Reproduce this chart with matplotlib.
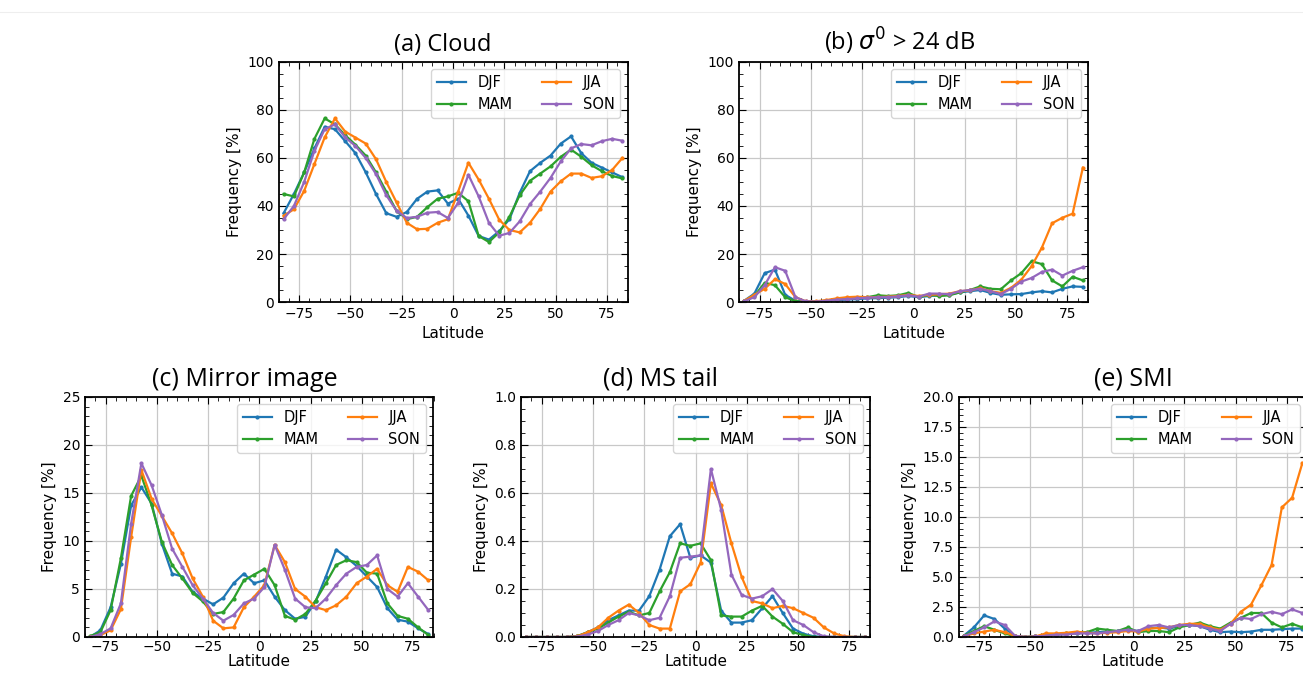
import matplotlib.pyplot as plt
from matplotlib.ticker import MultipleLocator, AutoMinorLocator
from matplotlib.lines import Line2D

# latitude bin centres
lat = [-82.5, -77.5, -72.5, -67.5, -62.5, -57.5, -52.5, -47.5, -42.5, -37.5,
       -32.5, -27.5, -22.5, -17.5, -12.5, -7.5, -2.5, 2.5, 7.5, 12.5,
       17.5, 22.5, 27.5, 32.5, 37.5, 42.5, 47.5, 52.5, 57.5, 62.5,
       67.5, 72.5, 77.5, 82.5]

# (a) Cloud
cloud_djf = [37, 45, 54, 64, 73, 72, 67, 62, 54, 45, 37, 35.5, 37.5, 43, 46, 46.5, 41,
             43, 36, 27.5, 26, 29.5, 34.5, 45.5, 54.5, 58, 61, 66, 69, 62, 58, 56, 54, 52]
cloud_mam = [45, 44, 54, 68, 76.5, 74, 69.5, 65.5, 61, 54, 46, 38, 34.5, 35.5, 39.5, 43, 44,
             45.5, 42, 27.5, 25, 29, 35.5, 44.5, 50.5, 53.5, 56.5, 60.5, 63.5, 60.5, 57, 54.5, 52.5, 51.5]
cloud_jja = [36, 38.6, 46.3, 57.5, 68.6, 76.5, 71, 68.5, 66, 59.5, 50, 41.5, 33, 30.3, 30.5, 33, 34.5,
             46, 58, 51, 43, 34.3, 30, 29, 33, 38.8, 46, 50.3, 53.5, 53.5, 51.7, 52.4, 55, 60]
cloud_son = [34.5, 40, 50, 63, 72, 74, 68.6, 65, 60, 53.3, 44.5, 38, 35, 35.5, 37.2, 37.5, 35,
             41.3, 53, 44, 33, 27.6, 28.8, 33.6, 40.8, 46, 51.7, 58.6, 64, 65.8, 65.3, 67, 68, 67.2]

# (b) sigma0 > 24 dB
sig_djf = [0.5, 3.5, 12, 13.5, 3, 0.5, 0.1, 0.2, 0.4, 0.8, 1.0, 1.2, 1.5, 1.6, 1.8, 2.0, 2.5,
           2.0, 2.5, 2.8, 3.0, 4.0, 4.5, 5.0, 3.8, 3.0, 3.2, 3.3, 4.0, 4.5, 4.0, 5.5, 6.5, 6.3]
sig_mam = [0.3, 2.5, 8, 7, 2, 0.3, 0.1, 0.2, 0.5, 1.0, 1.5, 1.8, 2.0, 2.8, 2.5, 2.8, 3.8,
           2.0, 3.0, 2.5, 2.8, 4.0, 5.0, 6.5, 5.5, 5.3, 9, 12, 17, 15.8, 9, 6.5, 10.5, 9]
sig_jja = [0.5, 3, 5.5, 9.5, 7.5, 2, 0.3, 0.3, 0.8, 1.5, 2.0, 2.2, 2.0, 2.0, 2.2, 2.5, 3.0,
           2.5, 3.0, 3.2, 3.5, 4.5, 4.8, 5.8, 4.5, 3.8, 5.9, 9.3, 14.9, 22.6, 32.8, 35.1, 36.8, 56]
sig_son = [0.3, 2, 7, 14.5, 13, 2, 0.3, 0.2, 0.5, 1.0, 1.2, 1.5, 1.8, 2.0, 2.0, 2.3, 2.8,
           2.2, 3.5, 3.5, 3.2, 4.5, 5.0, 5.5, 4.5, 3.3, 5.5, 8.5, 10, 12.5, 13.5, 11, 13, 14.5]

# (c) Mirror image
mir_djf = [0, 0.7, 3.1, 7.6, 13.7, 15.6, 13.9, 9.7, 6.6, 6.3, 4.7, 4.0, 3.4, 4.1, 5.6, 6.6, 5.6,
           5.9, 4.2, 2.8, 1.9, 2.1, 3.7, 6.3, 9.1, 8.3, 7.4, 6.3, 5.2, 3.0, 1.8, 1.6, 0.9, 0.3]
mir_mam = [0.1, 0.5, 2.8, 8.2, 14.7, 16.8, 13.7, 9.9, 7.5, 6.1, 4.6, 3.7, 2.4, 2.6, 4.0, 5.9, 6.5,
           7.1, 5.4, 2.2, 1.8, 2.4, 3.8, 5.6, 7.5, 8.0, 7.8, 6.7, 6.6, 3.5, 2.2, 1.9, 1.0, 0.2]
mir_jja = [0, 0.2, 0.7, 2.9, 10.4, 17.4, 14.4, 12.6, 10.8, 8.7, 6.1, 4.2, 1.7, 0.9, 1.0, 3.1, 4.2,
           5.4, 9.6, 7.8, 5.0, 4.2, 3.1, 2.8, 3.3, 4.2, 5.6, 6.3, 7.1, 5.4, 4.7, 7.3, 6.8, 5.9]
mir_son = [0, 0.3, 0.9, 3.5, 11.8, 18.1, 15.8, 12.7, 9.2, 7.3, 5.4, 4.0, 2.5, 1.7, 2.3, 3.5, 4.0,
           5.2, 9.6, 7.0, 4.0, 3.1, 3.0, 4.0, 5.4, 6.6, 7.3, 7.5, 8.5, 5.0, 4.2, 5.6, 4.2, 2.8]

# (d) MS tail
ms_djf = [0, 0, 0, 0, 0, 0.004, 0.02, 0.04, 0.07, 0.09, 0.11, 0.11, 0.17, 0.28, 0.42, 0.47, 0.33,
          0.34, 0.31, 0.11, 0.06, 0.06, 0.07, 0.12, 0.17, 0.10, 0.035, 0.014, 0.003, 0, 0, 0, 0, 0]
ms_mam = [0, 0, 0, 0, 0, 0.003, 0.02, 0.035, 0.06, 0.085, 0.105, 0.09, 0.10, 0.19, 0.27, 0.39, 0.38,
          0.39, 0.32, 0.09, 0.085, 0.085, 0.11, 0.13, 0.085, 0.055, 0.02, 0.008, 0, 0, 0, 0, 0, 0]
ms_jja = [0, 0, 0, 0, 0, 0.003, 0.02, 0.04, 0.08, 0.11, 0.135, 0.10, 0.05, 0.035, 0.035, 0.19, 0.22,
          0.31, 0.64, 0.55, 0.39, 0.25, 0.15, 0.14, 0.12, 0.13, 0.12, 0.10, 0.08, 0.04, 0.015, 0.003, 0, 0]
ms_son = [0, 0, 0, 0, 0, 0.002, 0.01, 0.025, 0.05, 0.07, 0.10, 0.09, 0.07, 0.08, 0.17, 0.33, 0.335,
          0.34, 0.70, 0.53, 0.26, 0.175, 0.16, 0.17, 0.20, 0.15, 0.07, 0.05, 0.02, 0.003, 0, 0, 0, 0]

# (e) SMI
smi_djf = [0.1, 0.8, 1.8, 1.5, 0.7, 0.1, 0.0, 0.05, 0.1, 0.2, 0.25, 0.3, 0.35, 0.4, 0.45, 0.5, 0.6,
           0.5, 0.7, 0.8, 0.7, 0.9, 1.0, 0.9, 0.6, 0.4, 0.45, 0.4, 0.45, 0.6, 0.6, 0.65, 0.7, 0.7]
smi_mam = [0.1, 0.5, 0.9, 0.6, 0.3, 0.05, 0, 0.05, 0.1, 0.2, 0.3, 0.35, 0.4, 0.7, 0.6, 0.5, 0.8,
           0.4, 0.5, 0.5, 0.4, 0.8, 1.0, 1.2, 0.9, 0.7, 1.2, 1.6, 2.0, 2.0, 1.2, 0.8, 1.1, 0.8]
smi_jja = [0.05, 0.3, 0.45, 0.6, 0.4, 0.1, 0, 0.05, 0.3, 0.3, 0.35, 0.45, 0.35, 0.3, 0.35, 0.4, 0.5,
           0.45, 0.7, 0.75, 0.8, 1.0, 1.1, 1.1, 0.8, 0.6, 1.1, 2.1, 2.7, 4.3, 6.0, 10.8, 11.6, 14.5]
smi_son = [0.05, 0.4, 0.8, 1.3, 1.0, 0.1, 0, 0.05, 0.1, 0.2, 0.2, 0.3, 0.3, 0.3, 0.4, 0.5, 0.6,
           0.5, 0.9, 1.0, 0.8, 1.0, 1.0, 0.9, 0.7, 0.5, 1.1, 1.6, 1.5, 1.9, 2.1, 1.9, 2.3, 2.0]

seasons = ['DJF', 'MAM', 'JJA', 'SON']
colors = {'DJF': '#1f77b4', 'MAM': '#2ca02c', 'JJA': '#ff7f0e', 'SON': '#9467bd'}

W, H = 1303, 673
fig = plt.figure(figsize=(W / 100, H / 100), dpi=100)

# faint screenshot seam at the top
fig.add_artist(Line2D([0, 1], [1 - 12 / H, 1 - 12 / H], color='#eeeeee', lw=0.8))


def box(x0, x1, y0, y1):
    return [x0 / W, 1 - y1 / H, (x1 - x0) / W, (y1 - y0) / H]


# rect, title, series, ymax, ystep, title size, title x, y format, bottom row?
panels = [
    (box(278.5, 627.5, 62, 302), '(a) Cloud', [cloud_djf, cloud_mam, cloud_jja, cloud_son],
     100, 20, 17, 0.47, None, False),
    (box(739, 1088, 62, 302), r'(b) $\sigma^0$ > 24 dB', [sig_djf, sig_mam, sig_jja, sig_son],
     100, 20, 17, 0.46, None, False),
    (box(85, 433.5, 397, 637), '(c) Mirror image', [mir_djf, mir_mam, mir_jja, mir_son],
     25, 5, 18, 0.46, None, True),
    (box(521, 870, 397, 637), '(d) MS tail', [ms_djf, ms_mam, ms_jja, ms_son],
     1.0, 0.2, 18, 0.40, '{x:.1f}', True),
    (box(958.5, 1307.5, 397, 637), '(e) SMI', [smi_djf, smi_mam, smi_jja, smi_son],
     20, 2.5, 18, 0.50, '{x:.1f}', True),
]

for rect, title, data, ymax, ystep, tsize, tx, fmt, bottom in panels:
    ax = fig.add_axes(rect)
    for name, vals in zip(seasons, data):
        ax.plot(lat, vals, '.-', color=colors[name], lw=1.6, ms=4, label=name)
    ax.set_xlim(-85, 85)
    ax.set_ylim(0, ymax)
    ax.xaxis.set_major_locator(MultipleLocator(25))
    ax.xaxis.set_minor_locator(MultipleLocator(5))
    ax.yaxis.set_major_locator(MultipleLocator(ystep))
    ax.yaxis.set_minor_locator(AutoMinorLocator())
    if fmt:
        ax.yaxis.set_major_formatter(fmt)
    ax.tick_params(which='both', direction='in', top=True, right=True, labelsize=10)
    ax.tick_params(which='major', length=5)
    ax.tick_params(which='minor', length=3)
    if bottom:
        ax.tick_params(axis='x', pad=2)
    for s in ax.spines.values():
        s.set_linewidth(1.3)
    ax.grid(True, which='major', color='#c8c8c8', lw=0.9)
    ax.set_xlabel('Latitude', fontsize=11, labelpad=0 if bottom else 4)
    ax.set_ylabel('Frequency [%]', fontsize=11)
    ax.set_title(title, fontsize=tsize, family='Open Sans', x=tx, pad=8)
    ax.legend(ncol=2, loc='upper right', fontsize=10.5)

fig.savefig('out.png', dpi=100)
